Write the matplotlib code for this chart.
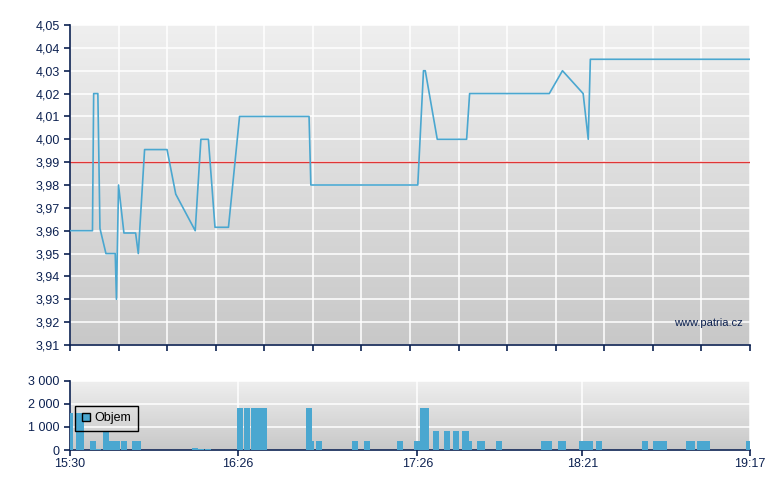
import numpy as np
import matplotlib
matplotlib.use("Agg")
import matplotlib.pyplot as plt
from matplotlib.colors import LinearSegmentedColormap
from matplotlib.patches import Patch
from matplotlib.ticker import FuncFormatter

# price line: minutes after 15:30, price
price_min = [0, 7.5, 7.9, 9.3, 10.0, 12.0, 15.1, 15.5, 16.2, 18.0, 21.9, 22.8,
             24.9, 32.4, 35.3, 41.8, 43.7, 46.2, 48.4, 52.9, 56.6, 79.8, 80.4,
             116.1, 118.0, 118.6, 122.6, 132.4, 133.4, 160.0, 164.4, 171.3,
             173.0, 173.7, 227]
price = [3.96, 3.96, 4.02, 4.02, 3.961, 3.95, 3.95, 3.93, 3.98, 3.959, 3.959,
         3.95, 3.9955, 3.9955, 3.976, 3.96, 4.00, 4.00, 3.9615, 3.9615, 4.01,
         4.01, 3.98, 3.98, 4.03, 4.03, 4.00, 4.00, 4.02, 4.02, 4.03, 4.02,
         4.00, 4.035, 4.035]
prev_close = 3.99

# volume bars: start minute, volume
vol_min = [-1.0, 2.0, 2.6, 6.7, 8.2, 11.0, 13.0, 14.7, 17.0, 20.7, 21.7,
           40.7, 42.7, 45.0, 55.7, 58.0, 60.3, 62.3, 63.7, 78.7, 79.3, 82.0,
           94.3, 98.0, 109.3, 114.7, 115.0, 117.0, 117.7, 121.3, 125.0, 128.0,
           130.7, 131.3, 132.3, 135.7, 136.7, 142.3, 157.3, 159.0, 163.0,
           163.7, 170.0, 172.0, 172.7, 175.7, 191.0, 194.7, 196.7, 197.3,
           205.7, 206.7, 209.3, 211.3, 211.7, 225.7]
volume = [1600, 1600, 1600, 400, 50, 800, 400, 400, 400, 400, 400,
          100, 45, 45, 1800, 1800, 1800, 1800, 1800, 1800, 400, 400,
          400, 400, 400, 400, 400, 1800, 1800, 800, 800, 800,
          800, 800, 400, 400, 400, 400, 400, 400, 400,
          400, 400, 400, 400, 400, 400, 400, 400, 400,
          400, 400, 400, 400, 400, 400]

time_labels = ["15:30", "16:26", "17:26", "18:21", "19:17"]


def to_min(s):
    h, m = s.split(":")
    return (int(h) - 15) * 60 + int(m) - 30


navy = "#0c2151"
blue = "#4aa7d0"
t_end = to_min(time_labels[-1])
grad = LinearSegmentedColormap.from_list("g", ["#c8c8c8", "#efefef"])

plt.rcParams["font.family"] = ["Liberation Sans", "DejaVu Sans"]
plt.rcParams["font.size"] = 9

fig = plt.figure(figsize=(7.8, 4.9), dpi=100)
ax = fig.add_axes([70 / 780, 145 / 490, 680 / 780, 320 / 490])
axv = fig.add_axes([70 / 780, 40 / 490, 680 / 780, 69.5 / 490])


def style(a):
    a.imshow(np.linspace(0, 1, 256)[:, None], cmap=grad, origin="lower",
             extent=[0, 1, 0, 1], transform=a.transAxes, aspect="auto",
             zorder=-1)
    a.set_axisbelow(True)
    a.grid(True, color="white", lw=1.1)
    for s in ["top", "right"]:
        a.spines[s].set_visible(False)
    for s in ["left", "bottom"]:
        a.spines[s].set_color(navy)
        a.spines[s].set_linewidth(1.2)
    a.tick_params(colors=navy, length=4, width=1.2, labelcolor=navy)


style(ax)
ax.plot(price_min, price, color=blue, lw=1.2, zorder=3)
ax.axhline(prev_close, color="#e03535", lw=1.0, zorder=2)
ax.set_xlim(0, t_end)
ax.set_ylim(3.91, 4.05)
ax.set_yticks(np.arange(3.91, 4.0501, 0.01))
ax.yaxis.set_major_formatter(FuncFormatter(lambda v, p: f"{v:.2f}".replace(".", ",")))
ax.set_xticks(np.linspace(0, t_end, 15))
ax.set_xticklabels([])
ax.text(0.99, 0.069, "www.patria.cz", transform=ax.transAxes, ha="right",
        va="center", color=navy, fontsize=8)

style(axv)
axv.bar(vol_min, volume, width=2.0, align="edge", color=blue, zorder=3)
axv.set_xlim(0, t_end)
axv.set_ylim(0, 3000)
axv.set_yticks([0, 1000, 2000, 3000])
axv.yaxis.set_major_formatter(FuncFormatter(lambda v, p: f"{int(v):,}".replace(",", " ")))
axv.set_xticks([to_min(s) for s in time_labels])
axv.set_xticklabels(time_labels)
axv.tick_params(axis="x", pad=2)
leg = axv.legend(handles=[Patch(facecolor=blue, edgecolor="black", lw=1.0)],
                 labels=["Objem"], loc="upper left",
                 bbox_to_anchor=(0.007, 0.64), borderaxespad=0,
                 fancybox=False, framealpha=0, edgecolor="black",
                 handlelength=0.65, handleheight=0.65, handletextpad=0.35,
                 borderpad=0.55, fontsize=9)
leg.get_frame().set_linewidth(1.0)
leg.get_frame().set_alpha(None)
leg.get_frame().set_facecolor("none")

fig.savefig("out.png", dpi=100)
